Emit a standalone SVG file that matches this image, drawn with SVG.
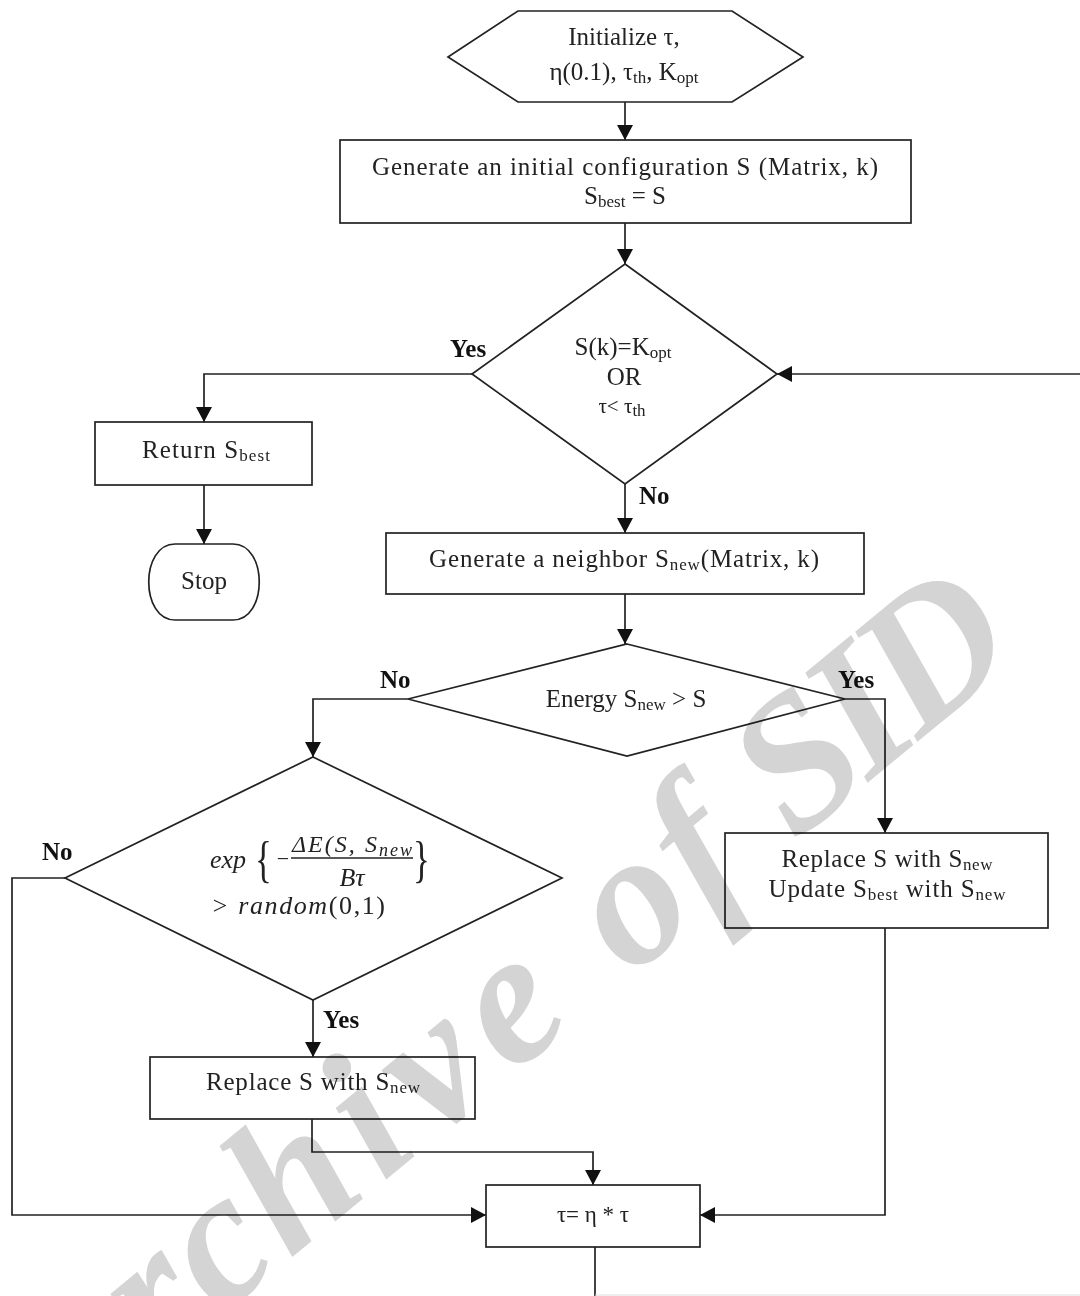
<svg xmlns="http://www.w3.org/2000/svg" width="1080" height="1296" viewBox="0 0 1080 1296">
<style>
.shape{fill:#fff;stroke:#222;stroke-width:1.7}
.c{fill:none;stroke:#222;stroke-width:1.7}
.t{font-family:"Liberation Serif",serif;font-size:25px;fill:#222;text-anchor:middle}
.s{font-size:17px}
.lbl{font-family:"Liberation Serif",serif;font-size:25px;font-weight:bold;fill:#111}
.m{font-family:"Liberation Serif",serif;font-style:italic;font-size:26px;fill:#222}
.br{font-family:"Liberation Serif",serif;font-size:50px;fill:#222}
.wm{font-family:"Liberation Serif",serif;font-style:italic;font-weight:bold;font-size:190px;fill:#d4d4d4;mix-blend-mode:multiply}
</style>
<defs>
<marker id="ah" viewBox="0 0 15 16" markerWidth="15" markerHeight="16" refX="15" refY="8" orient="auto" markerUnits="userSpaceOnUse">
<path d="M0,0 L15,8 L0,16 z" fill="#111"/>
</marker>
</defs>
<rect width="1080" height="1296" fill="#fff"/>

<g id="connectors">
<path class="c" d="M625,102 V140" marker-end="url(#ah)"/>
<path class="c" d="M625,223 V264" marker-end="url(#ah)"/>
<path class="c" d="M472,374 H204 V422" marker-end="url(#ah)"/>
<path class="c" d="M204,485 V544" marker-end="url(#ah)"/>
<path class="c" d="M625,484 V533" marker-end="url(#ah)"/>
<path class="c" d="M1080,374 H777" marker-end="url(#ah)"/>
<path class="c" d="M625,594 V644" marker-end="url(#ah)"/>
<path class="c" d="M408,699 H313 V757" marker-end="url(#ah)"/>
<path class="c" d="M845,699 H885 V833" marker-end="url(#ah)"/>
<path class="c" d="M313,1000 V1057" marker-end="url(#ah)"/>
<path class="c" d="M885,928 V1215 H700" marker-end="url(#ah)"/>
<path class="c" d="M65,878 H12 V1215 H486" marker-end="url(#ah)"/>
<path class="c" d="M312,1119 V1152 H593 V1185" marker-end="url(#ah)"/>
<path class="c" d="M595,1247 V1296"/>
<path d="M595,1295 H1080" fill="none" stroke="#ddd" stroke-width="1.2"/>
<text class="lbl" x="450" y="357">Yes</text>
<text class="lbl" x="639" y="504">No</text>
<text class="lbl" x="380" y="688">No</text>
<text class="lbl" x="838" y="688">Yes</text>
<text class="lbl" x="42" y="860">No</text>
<text class="lbl" x="323" y="1028">Yes</text>
</g>

<g id="init">
<polygon class="shape" points="448,57 518,11 732,11 803,57 732,102 518,102"/>
<text class="t" x="624" y="45">Initialize τ,</text>
<text class="t" x="624" y="80">η(0.1), τ<tspan class="s" dy="3">th</tspan><tspan dy="-3">, K</tspan><tspan class="s" dy="3">opt</tspan></text>
</g>

<g id="gen-initial">
<rect class="shape" x="340" y="140" width="571" height="83"/>
<text class="t" x="625" y="175" textLength="506" lengthAdjust="spacing">Generate  an initial configuration S (Matrix, k)</text>
<text class="t" x="625" y="204">S<tspan class="s" dy="3">best</tspan><tspan dy="-3"> = S</tspan></text>
</g>

<g id="check-stop">
<polygon class="shape" points="625,264 777,374 625,484 472,374"/>
<text class="t" x="623" y="355">S(k)=K<tspan class="s" dy="3">opt</tspan></text>
<text class="t" x="624" y="385">OR</text>
<text class="t" x="622" y="413" style="font-size:21px">τ&lt; τ<tspan class="s" dy="3">th</tspan></text>
</g>

<g id="return">
<rect class="shape" x="95" y="422" width="217" height="63"/>
<text class="t" x="206" y="458" textLength="128" lengthAdjust="spacing">Return S<tspan class="s" dy="3">best</tspan></text>
</g>

<g id="stop">
<path class="shape" d="M175,544 H233 C268,544 268,620 233,620 H175 C140,620 140,544 175,544 Z"/>
<text class="t" x="204" y="589">Stop</text>
</g>

<g id="gen-neighbor">
<rect class="shape" x="386" y="533" width="478" height="61"/>
<text class="t" x="624" y="567" textLength="390" lengthAdjust="spacing">Generate  a neighbor S<tspan class="s" dy="3">new</tspan><tspan dy="-3">(Matrix, k)</tspan></text>
</g>

<g id="energy">
<polygon class="shape" points="627,644 845,699 627,756 408,699"/>
<text class="t" x="626" y="707">Energy S<tspan class="s" dy="3">new</tspan><tspan dy="-3"> &gt; S</tspan></text>
</g>

<g id="accept">
<polygon class="shape" points="313,757 562,878 313,1000 65,878"/>
<text class="m" x="210" y="868">exp</text>
<text class="br" transform="translate(255,876) scale(0.7,1)">{</text>
<text class="t" x="283" y="866" style="font-size:22px">−</text>
<text class="m" x="292" y="852" style="font-size:24px" textLength="120" lengthAdjust="spacing">ΔE(S, S<tspan dy="4" style="font-size:18px">new</tspan></text>
<line x1="291" y1="858" x2="413" y2="858" stroke="#222" stroke-width="1.4"/>
<text class="m" x="352" y="886" text-anchor="middle">Bτ</text>
<text class="br" transform="translate(413,876) scale(0.7,1)">}</text>
<text class="m" x="211" y="914" textLength="174" lengthAdjust="spacing">&gt; random<tspan style="font-style:normal">(0,1)</tspan></text>
</g>

<g id="replace-best">
<rect class="shape" x="725" y="833" width="323" height="95"/>
<text class="t" x="887" y="867" textLength="211" lengthAdjust="spacing">Replace S with S<tspan class="s" dy="3">new</tspan></text>
<text class="t" x="887" y="897" textLength="237" lengthAdjust="spacing">Update  S<tspan class="s" dy="3">best</tspan><tspan dy="-3"> with S</tspan><tspan class="s" dy="3">new</tspan></text>
</g>

<g id="replace">
<rect class="shape" x="150" y="1057" width="325" height="62"/>
<text class="t" x="313" y="1090" textLength="214" lengthAdjust="spacing">Replace S with S<tspan class="s" dy="3">new</tspan></text>
</g>

<g id="cool">
<rect class="shape" x="486" y="1185" width="214" height="62"/>
<text class="t" x="593" y="1222" style="font-size:23px">τ= η * τ</text>
</g>

<g id="watermark">
<text class="wm" x="58" y="1450" transform="rotate(-39.5 58 1450)" dx="0 5 5 5 15 15 15 11 11 5 5 -2 -10 -10">Archive of SID</text>
</g>
</svg>
